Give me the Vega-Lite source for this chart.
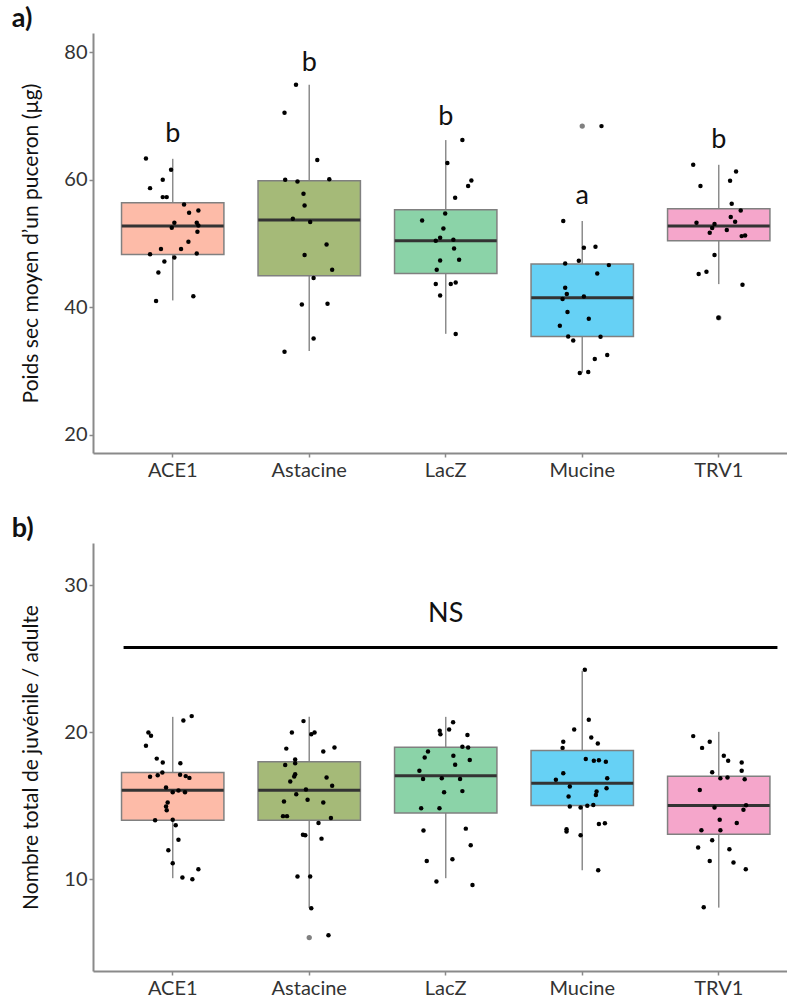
{
  "$schema": "https://vega.github.io/schema/vega-lite/v6.json",
  "autosize": {"type": "pad"},
  "padding": {"left": 11, "top": 5, "right": 0, "bottom": 0},
  "background": "white",
  "config": {
    "font": "Lato",
    "view": {"stroke": null},
    "axis": {"grid": false, "domainColor": "#8a8a8a", "domainWidth": 2, "tickColor": "#8a8a8a", "tickWidth": 1.5, "tickSize": 4, "labelFont": "Lato", "labelFontSize": 20, "labelColor": "#333333", "titleFont": "Lato", "titleFontSize": 21, "titleFontWeight": "normal", "titleColor": "#111111"},
    "title": {"font": "Lato", "fontSize": 27, "fontWeight": "bold", "anchor": "start", "frame": "bounds", "color": "#111111"}
  },
  "spacing": 35,
  "datasets": {
    "wpts": [
      {"g":"ACE1","v":63.3,"j":-0.196},{"g":"ACE1","v":61.54,"j":-0.012},{"g":"ACE1","v":59.97,"j":-0.073},{"g":"ACE1","v":58.66,"j":-0.166},{"g":"ACE1","v":57.25,"j":-0.073},{"g":"ACE1","v":57.25,"j":-0.044},{"g":"ACE1","v":56.1,"j":0.083},{"g":"ACE1","v":55.16,"j":0.188},{"g":"ACE1","v":54.79,"j":0.12},{"g":"ACE1","v":53.22,"j":0.012},{"g":"ACE1","v":53.22,"j":0.176},{"g":"ACE1","v":52.8,"j":0.188},{"g":"ACE1","v":52.44,"j":-0.007},{"g":"ACE1","v":51.8,"j":0.181},{"g":"ACE1","v":50.24,"j":0.115},{"g":"ACE1","v":49.1,"j":-0.086},{"g":"ACE1","v":49.1,"j":0.061},{"g":"ACE1","v":48.3,"j":-0.166},{"g":"ACE1","v":48.4,"j":0.176},{"g":"ACE1","v":47.78,"j":0.012},{"g":"ACE1","v":47.15,"j":-0.061},{"g":"ACE1","v":45.43,"j":-0.105},{"g":"ACE1","v":41.7,"j":0.151},{"g":"ACE1","v":40.94,"j":-0.122},
      {"g":"Astacine","v":74.87,"j":-0.097},{"g":"Astacine","v":70.48,"j":-0.181},{"g":"Astacine","v":63.06,"j":0.059},{"g":"Astacine","v":59.97,"j":-0.176},{"g":"Astacine","v":59.7,"j":-0.086},{"g":"Astacine","v":60.07,"j":0.147},{"g":"Astacine","v":57.77,"j":-0.042},{"g":"Astacine","v":55.94,"j":-0.034},{"g":"Astacine","v":53.85,"j":-0.12},{"g":"Astacine","v":53.33,"j":0.007},{"g":"Astacine","v":49.82,"j":0.127},{"g":"Astacine","v":48.16,"j":-0.034},{"g":"Astacine","v":45.85,"j":0.168},{"g":"Astacine","v":44.55,"j":0.032},{"g":"Astacine","v":40.41,"j":-0.054},{"g":"Astacine","v":40.52,"j":0.134},{"g":"Astacine","v":35.08,"j":0.032},{"g":"Astacine","v":32.99,"j":-0.181},
      {"g":"LacZ","v":66.2,"j":0.122},{"g":"LacZ","v":62.6,"j":0.012},{"g":"LacZ","v":59.86,"j":0.188},{"g":"LacZ","v":58.98,"j":0.164},{"g":"LacZ","v":57.14,"j":0.069},{"g":"LacZ","v":54.68,"j":-0.004},{"g":"LacZ","v":53.59,"j":-0.173},{"g":"LacZ","v":52.33,"j":-0.017},{"g":"LacZ","v":50.87,"j":-0.041},{"g":"LacZ","v":50.4,"j":-0.073},{"g":"LacZ","v":50.55,"j":0.056},{"g":"LacZ","v":49.2,"j":0.061},{"g":"LacZ","v":47.31,"j":-0.041},{"g":"LacZ","v":47.42,"j":0.098},{"g":"LacZ","v":45.85,"j":-0.066},{"g":"LacZ","v":43.6,"j":-0.073},{"g":"LacZ","v":43.6,"j":0.037},{"g":"LacZ","v":43.86,"j":0.073},{"g":"LacZ","v":41.82,"j":-0.041},{"g":"LacZ","v":35.76,"j":0.073},
      {"g":"Mucine","v":68.39,"j":0.141},{"g":"Mucine","v":53.49,"j":-0.139},{"g":"Mucine","v":49.3,"j":0.012},{"g":"Mucine","v":49.46,"j":0.097},{"g":"Mucine","v":46.84,"j":-0.125},{"g":"Mucine","v":47.26,"j":-0.025},{"g":"Mucine","v":46.58,"j":0.195},{"g":"Mucine","v":45.27,"j":0.11},{"g":"Mucine","v":43.03,"j":-0.125},{"g":"Mucine","v":42.04,"j":-0.113},{"g":"Mucine","v":41.25,"j":-0.144},{"g":"Mucine","v":41.66,"j":0.012},{"g":"Mucine","v":39.21,"j":-0.108},{"g":"Mucine","v":38.16,"j":0.048},{"g":"Mucine","v":37.07,"j":-0.164},{"g":"Mucine","v":35.39,"j":-0.103},{"g":"Mucine","v":34.76,"j":-0.066},{"g":"Mucine","v":35.34,"j":0.134},{"g":"Mucine","v":32.47,"j":0.183},{"g":"Mucine","v":31.84,"j":0.092},{"g":"Mucine","v":29.64,"j":-0.018},{"g":"Mucine","v":29.8,"j":0.044},
      {"g":"TRV1","v":62.32,"j":-0.187},{"g":"TRV1","v":61.28,"j":0.127},{"g":"TRV1","v":59.81,"j":0.083},{"g":"TRV1","v":58.98,"j":-0.134},{"g":"TRV1","v":56.2,"j":0.095},{"g":"TRV1","v":55.16,"j":0.161},{"g":"TRV1","v":54.12,"j":0.088},{"g":"TRV1","v":53.38,"j":0.12},{"g":"TRV1","v":53.22,"j":-0.163},{"g":"TRV1","v":53.02,"j":-0.031},{"g":"TRV1","v":52.39,"j":-0.048},{"g":"TRV1","v":52.08,"j":0.059},{"g":"TRV1","v":51.65,"j":-0.066},{"g":"TRV1","v":51.13,"j":0.168},{"g":"TRV1","v":51.23,"j":0.193},{"g":"TRV1","v":48.16,"j":-0.031},{"g":"TRV1","v":45.17,"j":-0.147},{"g":"TRV1","v":45.54,"j":-0.09},{"g":"TRV1","v":43.5,"j":0.174},{"g":"TRV1","v":38.32,"j":-0.002}
    ],
    "wbox": [
      {"g":"ACE1","lo":41.04,"q1":48.25,"med":52.7,"q3":56.36,"hi":63.26},
      {"g":"Astacine","lo":33.1,"q1":44.9,"med":53.64,"q3":59.81,"hi":74.87},
      {"g":"LacZ","lo":35.8,"q1":45.27,"med":50.4,"q3":55.26,"hi":66.2},
      {"g":"Mucine","lo":29.69,"q1":35.39,"med":41.46,"q3":46.74,"hi":53.49},
      {"g":"TRV1","lo":43.6,"q1":50.4,"med":52.7,"q3":55.42,"hi":62.32}
    ],
    "wout": [{"g":"Mucine","v":68.39},{"g":"TRV1","v":38.32}],
    "wlab": [
      {"g":"ACE1","lab":"b","v":65.88},{"g":"Astacine","lab":"b","v":77.0},{"g":"LacZ","lab":"b","v":68.49},{"g":"Mucine","lab":"a","v":56.2},{"g":"TRV1","lab":"b","v":64.99}
    ],
    "npts": [
      {"g":"ACE1","v":21.09,"j":0.139},{"g":"ACE1","v":20.79,"j":0.078},{"g":"ACE1","v":19.97,"j":-0.178},{"g":"ACE1","v":19.75,"j":-0.159},{"g":"ACE1","v":19.07,"j":-0.196},{"g":"ACE1","v":18.2,"j":-0.117},{"g":"ACE1","v":17.93,"j":-0.073},{"g":"ACE1","v":17.89,"j":0.056},{"g":"ACE1","v":16.96,"j":-0.166},{"g":"ACE1","v":17.07,"j":-0.11},{"g":"ACE1","v":17.25,"j":-0.076},{"g":"ACE1","v":17.1,"j":0.054},{"g":"ACE1","v":17.01,"j":0.095},{"g":"ACE1","v":16.89,"j":0.122},{"g":"ACE1","v":16.23,"j":-0.049},{"g":"ACE1","v":15.92,"j":0.0},{"g":"ACE1","v":16.03,"j":0.042},{"g":"ACE1","v":15.92,"j":0.09},{"g":"ACE1","v":15.21,"j":-0.037},{"g":"ACE1","v":14.94,"j":-0.049},{"g":"ACE1","v":14.69,"j":-0.044},{"g":"ACE1","v":14.01,"j":-0.129},{"g":"ACE1","v":14.05,"j":0.0},{"g":"ACE1","v":13.67,"j":0.022},{"g":"ACE1","v":12.69,"j":0.042},{"g":"ACE1","v":11.97,"j":-0.032},{"g":"ACE1","v":11.09,"j":0.0},{"g":"ACE1","v":10.68,"j":0.188},{"g":"ACE1","v":10.11,"j":0.071},{"g":"ACE1","v":10.0,"j":0.144},
      {"g":"Astacine","v":20.75,"j":-0.042},{"g":"Astacine","v":19.97,"j":-0.127},{"g":"Astacine","v":19.86,"j":0.015},{"g":"Astacine","v":19.97,"j":0.039},{"g":"Astacine","v":18.88,"j":-0.168},{"g":"Astacine","v":18.68,"j":0.103},{"g":"Astacine","v":18.95,"j":0.185},{"g":"Astacine","v":18.14,"j":-0.103},{"g":"Astacine","v":17.89,"j":-0.103},{"g":"Astacine","v":17.76,"j":-0.176},{"g":"Astacine","v":17.14,"j":-0.103},{"g":"Astacine","v":16.98,"j":-0.11},{"g":"Astacine","v":16.64,"j":-0.139},{"g":"Astacine","v":16.91,"j":0.127},{"g":"Astacine","v":16.35,"j":0.168},{"g":"Astacine","v":16.1,"j":-0.024},{"g":"Astacine","v":15.78,"j":-0.095},{"g":"Astacine","v":15.4,"j":-0.012},{"g":"Astacine","v":15.28,"j":-0.185},{"g":"Astacine","v":15.21,"j":0.103},{"g":"Astacine","v":14.29,"j":-0.192},{"g":"Astacine","v":14.29,"j":-0.163},{"g":"Astacine","v":14.17,"j":0.159},{"g":"Astacine","v":13.83,"j":0.068},{"g":"Astacine","v":13.03,"j":-0.046},{"g":"Astacine","v":12.99,"j":-0.029},{"g":"Astacine","v":12.76,"j":0.09},{"g":"Astacine","v":10.18,"j":-0.086},{"g":"Astacine","v":10.18,"j":0.007},{"g":"Astacine","v":8.03,"j":0.015},{"g":"Astacine","v":6.19,"j":0.141},
      {"g":"LacZ","v":20.09,"j":-0.044},{"g":"LacZ","v":19.86,"j":-0.039},{"g":"LacZ","v":18.68,"j":-0.13},{"g":"LacZ","v":18.27,"j":-0.154},{"g":"LacZ","v":17.37,"j":-0.193},{"g":"LacZ","v":16.82,"j":-0.166},{"g":"LacZ","v":14.83,"j":-0.18},{"g":"LacZ","v":14.83,"j":-0.046},{"g":"LacZ","v":13.31,"j":-0.163},{"g":"LacZ","v":11.24,"j":-0.139},{"g":"LacZ","v":9.84,"j":-0.068},{"g":"LacZ","v":20.68,"j":0.054},{"g":"LacZ","v":20.18,"j":0.025},{"g":"LacZ","v":19.8,"j":0.159},{"g":"LacZ","v":19.0,"j":0.122},{"g":"LacZ","v":18.95,"j":0.164},{"g":"LacZ","v":18.39,"j":0.056},{"g":"LacZ","v":17.78,"j":0.069},{"g":"LacZ","v":18.1,"j":0.176},{"g":"LacZ","v":16.87,"j":-0.029},{"g":"LacZ","v":16.82,"j":0.105},{"g":"LacZ","v":15.92,"j":-0.012},{"g":"LacZ","v":15.99,"j":0.122},{"g":"LacZ","v":13.44,"j":0.147},{"g":"LacZ","v":12.31,"j":0.183},{"g":"LacZ","v":11.36,"j":0.049},{"g":"LacZ","v":9.61,"j":0.196},
      {"g":"Mucine","v":24.24,"j":0.019},{"g":"Mucine","v":20.84,"j":0.048},{"g":"Mucine","v":20.18,"j":-0.059},{"g":"Mucine","v":19.63,"j":0.066},{"g":"Mucine","v":19.34,"j":-0.139},{"g":"Mucine","v":19.23,"j":0.114},{"g":"Mucine","v":18.93,"j":-0.144},{"g":"Mucine","v":18.18,"j":0.026},{"g":"Mucine","v":18.05,"j":0.085},{"g":"Mucine","v":18.09,"j":0.122},{"g":"Mucine","v":17.98,"j":0.173},{"g":"Mucine","v":17.21,"j":-0.139},{"g":"Mucine","v":16.76,"j":-0.193},{"g":"Mucine","v":16.87,"j":0.183},{"g":"Mucine","v":16.3,"j":-0.091},{"g":"Mucine","v":16.19,"j":0.178},{"g":"Mucine","v":15.96,"j":0.105},{"g":"Mucine","v":15.73,"j":0.1},{"g":"Mucine","v":15.62,"j":-0.1},{"g":"Mucine","v":14.94,"j":-0.091},{"g":"Mucine","v":14.87,"j":-0.012},{"g":"Mucine","v":14.99,"j":0.037},{"g":"Mucine","v":15.05,"j":0.081},{"g":"Mucine","v":13.76,"j":0.122},{"g":"Mucine","v":13.81,"j":0.166},{"g":"Mucine","v":13.4,"j":-0.115},{"g":"Mucine","v":13.24,"j":-0.115},{"g":"Mucine","v":12.99,"j":-0.012},{"g":"Mucine","v":10.61,"j":0.117},
      {"g":"TRV1","v":19.73,"j":-0.187},{"g":"TRV1","v":19.34,"j":-0.066},{"g":"TRV1","v":18.93,"j":-0.122},{"g":"TRV1","v":18.39,"j":0.037},{"g":"TRV1","v":18.05,"j":0.069},{"g":"TRV1","v":17.93,"j":0.168},{"g":"TRV1","v":17.37,"j":0.168},{"g":"TRV1","v":17.28,"j":-0.048},{"g":"TRV1","v":16.87,"j":0.012},{"g":"TRV1","v":16.91,"j":0.064},{"g":"TRV1","v":16.8,"j":0.19},{"g":"TRV1","v":16.07,"j":-0.139},{"g":"TRV1","v":14.87,"j":-0.031},{"g":"TRV1","v":15.03,"j":0.2},{"g":"TRV1","v":14.73,"j":0.181},{"g":"TRV1","v":14.05,"j":0.007},{"g":"TRV1","v":13.83,"j":0.132},{"g":"TRV1","v":13.33,"j":-0.127},{"g":"TRV1","v":13.33,"j":0.012},{"g":"TRV1","v":12.65,"j":-0.048},{"g":"TRV1","v":12.15,"j":-0.151},{"g":"TRV1","v":12.04,"j":0.078},{"g":"TRV1","v":11.24,"j":-0.066},{"g":"TRV1","v":11.13,"j":0.108},{"g":"TRV1","v":10.68,"j":0.198},{"g":"TRV1","v":8.1,"j":-0.11}
    ],
    "nbox": [
      {"g":"ACE1","lo":10.07,"q1":14.01,"med":16.05,"q3":17.25,"hi":21.04},
      {"g":"Astacine","lo":8.05,"q1":14.01,"med":16.05,"q3":17.98,"hi":21.04},
      {"g":"LacZ","lo":10.07,"q1":14.51,"med":17.03,"q3":18.98,"hi":21.04},
      {"g":"Mucine","lo":10.61,"q1":15.01,"med":16.53,"q3":18.75,"hi":24.17},
      {"g":"TRV1","lo":8.07,"q1":13.06,"med":15.01,"q3":17.0,"hi":20.02}
    ],
    "nout": [{"g":"Astacine","v":6.03}],
    "nlab": [{"g":"LacZ","lab":"NS","v":27.46,"from":"ACE1","to":"TRV1","line":25.76}]
  },
  "vconcat": [
    {
      "title": {"text": "a)", "dx": -9, "offset": 0},
      "width": 694,
      "height": 420,
      "resolve": {"scale": {"x": "independent", "xOffset": "independent"}},
      "layer": [
        {
          "encoding": {
            "x": {"field": "g", "type": "nominal", "sort": ["ACE1","Astacine","LacZ","Mucine","TRV1"],
                  "scale": {"type": "band", "domain": ["ACE1","Astacine","LacZ","Mucine","TRV1"], "paddingInner": 0, "paddingOuter": 0.042, "align": 1},
                  "axis": {"title": null, "labelAngle": 0, "labelPadding": 3}}
          },
          "layer": [
            {"data": {"name": "wbox"}, "mark": {"type": "rule", "color": "#8c8c8c", "strokeWidth": 1.5},
             "encoding": {"y": {"field": "lo", "type": "quantitative", "scale": {"domain": [17.1, 83], "nice": false, "zero": false},
                                "axis": {"title": "Poids sec moyen d’un puceron (µg)", "values": [20,40,60,80], "titlePadding": 22}},
                          "y2": {"field": "hi"}}},
            {"data": {"name": "wbox"}, "mark": {"type": "bar", "width": {"band": 0.75}, "stroke": "#808080", "strokeWidth": 1.5},
             "encoding": {"y": {"field": "q1", "type": "quantitative"}, "y2": {"field": "q3"},
                          "fill": {"field": "g", "type": "nominal", "legend": null, "scale": {"domain": ["ACE1","Astacine","LacZ","Mucine","TRV1"], "range": ["#FDBBA8","#A5BA78","#8BD3A8","#66D1F5","#F5A6CB"]}}}},
            {"data": {"name": "wbox"}, "mark": {"type": "tick", "color": "#333333", "opacity": 1, "thickness": 3, "size": 102},
             "encoding": {"y": {"field": "med", "type": "quantitative"}}},
            {"data": {"name": "wout"}, "mark": {"type": "circle", "color": "#808080", "opacity": 1, "size": 28},
             "encoding": {"y": {"field": "v", "type": "quantitative"}}},
            {"data": {"name": "wlab"}, "mark": {"type": "text", "fontSize": 27, "baseline": "alphabetic", "color": "#111111"},
             "encoding": {"y": {"field": "v", "type": "quantitative"}, "text": {"field": "lab"}}}
          ]
        },
        {"data": {"name": "wpts"}, "mark": {"type": "circle", "color": "#000000", "opacity": 1, "size": 20},
         "encoding": {
           "x": {"field": "g", "type": "nominal", "sort": ["ACE1","Astacine","LacZ","Mucine","TRV1"],
                 "scale": {"type": "band", "domain": ["ACE1","Astacine","LacZ","Mucine","TRV1"], "paddingInner": 0, "paddingOuter": 0.042, "align": 1},
                 "axis": null},
           "y": {"field": "v", "type": "quantitative"},
           "xOffset": {"field": "j", "type": "quantitative", "scale": {"domain": [-0.5, 0.5], "nice": false}}}}
      ]
    },
    {
      "title": {"text": "b)", "dx": -9, "offset": 0},
      "width": 694,
      "height": 428,
      "resolve": {"scale": {"x": "independent", "xOffset": "independent"}},
      "layer": [
        {
          "encoding": {
            "x": {"field": "g", "type": "nominal", "sort": ["ACE1","Astacine","LacZ","Mucine","TRV1"],
                  "scale": {"type": "band", "domain": ["ACE1","Astacine","LacZ","Mucine","TRV1"], "paddingInner": 0, "paddingOuter": 0.042, "align": 1},
                  "axis": {"title": null, "labelAngle": 0, "labelPadding": 3}}
          },
          "layer": [
            {"data": {"name": "nbox"}, "mark": {"type": "rule", "color": "#8c8c8c", "strokeWidth": 1.5},
             "encoding": {"y": {"field": "lo", "type": "quantitative", "scale": {"domain": [3.76, 32.86], "nice": false, "zero": false},
                                "axis": {"title": "Nombre total de juvénile / adulte", "values": [10,20,30], "titlePadding": 22}},
                          "y2": {"field": "hi"}}},
            {"data": {"name": "nbox"}, "mark": {"type": "bar", "width": {"band": 0.75}, "stroke": "#808080", "strokeWidth": 1.5},
             "encoding": {"y": {"field": "q1", "type": "quantitative"}, "y2": {"field": "q3"},
                          "fill": {"field": "g", "type": "nominal", "legend": null, "scale": {"domain": ["ACE1","Astacine","LacZ","Mucine","TRV1"], "range": ["#FDBBA8","#A5BA78","#8BD3A8","#66D1F5","#F5A6CB"]}}}},
            {"data": {"name": "nbox"}, "mark": {"type": "tick", "color": "#333333", "opacity": 1, "thickness": 3, "size": 102},
             "encoding": {"y": {"field": "med", "type": "quantitative"}}},
            {"data": {"name": "nout"}, "mark": {"type": "circle", "color": "#808080", "opacity": 1, "size": 28},
             "encoding": {"y": {"field": "v", "type": "quantitative"}}},
            {"data": {"name": "nlab"}, "mark": {"type": "rule", "color": "#000000", "strokeWidth": 3},
             "encoding": {"x": {"field": "from", "type": "nominal", "bandPosition": 0.14}, "x2": {"field": "to", "bandPosition": 0.93},
                          "y": {"field": "line", "type": "quantitative"}}},
            {"data": {"name": "nlab"}, "mark": {"type": "text", "fontSize": 27, "baseline": "alphabetic", "color": "#111111"},
             "encoding": {"y": {"field": "v", "type": "quantitative"}, "text": {"field": "lab"}}}
          ]
        },
        {"data": {"name": "npts"}, "mark": {"type": "circle", "color": "#000000", "opacity": 1, "size": 20},
         "encoding": {
           "x": {"field": "g", "type": "nominal", "sort": ["ACE1","Astacine","LacZ","Mucine","TRV1"],
                 "scale": {"type": "band", "domain": ["ACE1","Astacine","LacZ","Mucine","TRV1"], "paddingInner": 0, "paddingOuter": 0.042, "align": 1},
                 "axis": null},
           "y": {"field": "v", "type": "quantitative"},
           "xOffset": {"field": "j", "type": "quantitative", "scale": {"domain": [-0.5, 0.5], "nice": false}}}}
      ]
    }
  ]
}
